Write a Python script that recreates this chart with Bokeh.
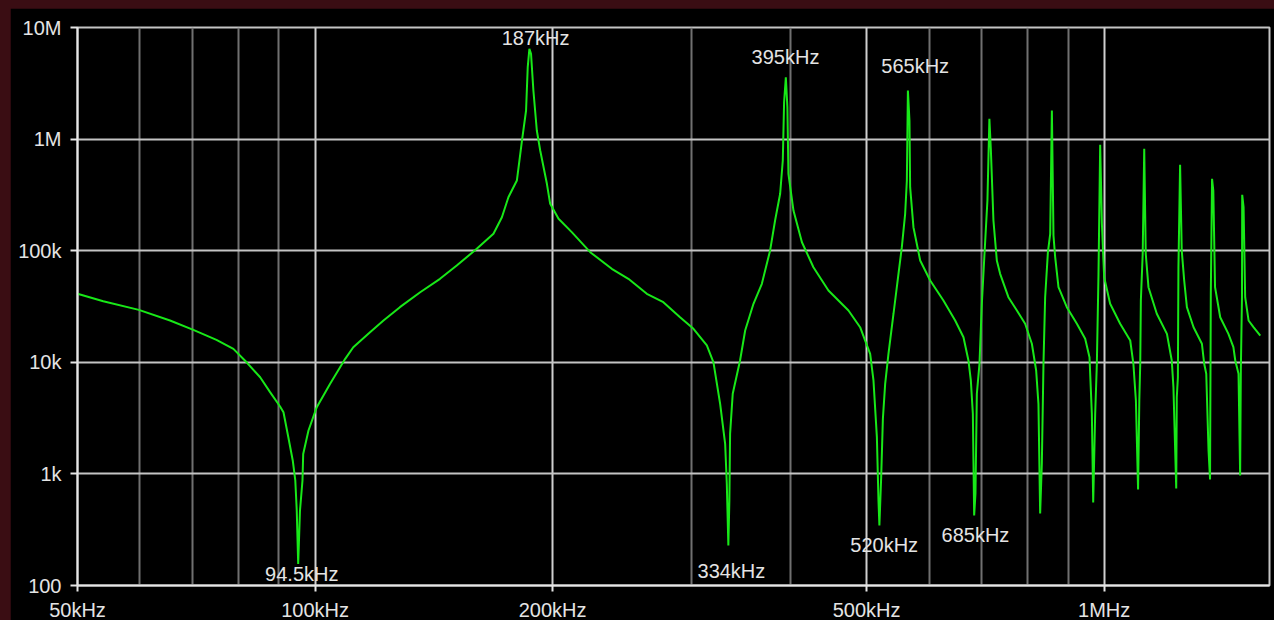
from bokeh.plotting import figure
from bokeh.models import Range1d, FixedTicker, ColumnDataSource, CustomJSTickFormatter
from bokeh.embed import file_html
from bokeh.resources import INLINE
from bokeh.core.properties import value

# Frequency (kHz) and impedance-like magnitude
freq_khz = [
    50.0, 53.9, 59.8, 65.5, 70.1, 75.0, 78.8, 81.9, 85.2, 87.7, 90.3, 91.2, 92.5, 93.7,
    94.4, 94.8, 95.2, 95.7, 96.4, 96.6, 98.1, 100.5, 104.5,
    109.2, 111.8, 117.4, 122.1, 128.1, 135.9, 144.0, 151.2, 160.3, 168.3, 172.5, 175.8,
    180.2, 182.8, 185.1, 186.0, 186.9, 187.8, 189.1, 191.0, 192.9, 196.7, 198.6, 203.5,
    211.5, 223.2, 237.7, 249.5, 263.3, 276.3, 290.1, 301.7, 313.7, 319.8, 326.1, 330.9,
    332.5, 334.0, 335.0, 335.7, 338.3, 345.6, 350.8, 359.4, 368.3, 377.3, 382.8, 388.5,
    391.5, 393.0, 395.0, 396.8, 398.0, 403.9, 414.0, 428.1, 447.3, 474.2, 490.6, 505.2,
    510.1, 515.2, 517.6, 519.0, 521.7, 524.3, 527.8, 532.9, 540.8, 548.7, 554.1, 559.5,
    562.3, 564.0, 566.6, 567.7, 573.2, 584.6, 601.9, 625.6, 647.4, 663.3, 673.0, 677.7,
    681.7, 684.3, 686.9, 689.7, 695.0, 699.8, 704.5, 711.3, 715.4, 718.4, 723.9, 731.1,
    738.2, 756.2, 775.2, 794.1, 809.8, 820.0, 825.5, 829.6, 833.7, 837.7, 841.8, 848.6,
    854.3, 858.5, 862.5, 866.8, 875.2, 896.8, 923.5, 946.1, 958.1, 964.7, 968.5, 974.1,
    978.9, 983.6, 988.4, 993.4, 1000.0, 1017.6, 1047.8, 1079.0, 1089.0, 1097.0, 1104.0,
    1108.0, 1111.0, 1113.0, 1119.0, 1124.0, 1129.0, 1138.0, 1166.0, 1201.0, 1218.0,
    1224.0, 1234.0, 1236.0, 1240.0, 1242.0, 1248.0, 1254.0, 1263.0, 1273.0, 1298.0,
    1330.0, 1339.0, 1347.0, 1356.0, 1362.0, 1365.0, 1370.0, 1375.0, 1382.0, 1403.0,
    1437.0, 1458.0, 1466.0, 1480.0, 1487.0, 1490.0, 1495.0, 1496.0, 1502.0, 1509.0,
    1524.0, 1546.0, 1577.0,
]
magnitude = [
    41100, 35300, 29500, 23700, 19550, 15900, 13200, 10000, 7350, 5400, 4020, 3570, 2130, 1320,
    873, 470, 156, 470, 873, 1510, 2450, 3960, 6410,
    10740, 13650, 18620, 23700, 31190, 42460, 55980, 73700, 104000, 141700, 199500, 301600,
    425600, 938000, 1804000, 4409000, 6444000, 5811000, 2726000, 1194000, 790700, 397700, 263000, 193200,
    146600, 97000, 68870, 55980, 41110, 34550, 25350, 19950, 14150, 10000, 4246, 1862,
    815, 228, 578, 2286, 5224, 10380, 19280, 33420, 50500, 100500, 186500, 323600,
    643000, 2141000, 3586000, 1931000, 488700, 229100, 119100, 71120, 43990, 29110, 20630, 11910,
    6871, 2133, 578, 345, 933, 3119, 6412, 11910, 27230, 62090, 107500, 214100,
    425600, 2726000, 1468000, 370700, 162400, 81660, 54080, 35810, 23700, 16790, 10380, 6871,
    3455, 424, 664, 5224, 9696, 33420, 81660, 281800, 1521000, 818500, 186500, 81660,
    62090, 38310, 29110, 22130, 14660, 8444, 4246, 442, 1232, 9696, 38310, 97000,
    141700, 1804000, 136800, 87500, 47100, 31190, 22130, 16240, 11120, 3455, 555, 3455,
    9696, 62090, 889000, 174200, 57880, 33420, 22130, 15680, 9696, 4550, 725,
    4550, 9696, 35810, 93760, 818500, 93760, 47100, 27230, 17990, 10380,
    5984, 740, 4864, 7353, 71120, 588500, 100500, 54080, 31190, 20630,
    14660, 9696, 7889, 1622, 891, 41110, 441000, 346300, 47100, 25350,
    17990, 13650, 10380, 7889, 968, 8444, 38310, 316700, 245500, 38310,
    23700, 20630, 17380,
]

x_tick_values = [50, 100, 200, 500, 1000]
x_tick_labels = ["50kHz", "100kHz", "200kHz", "500kHz", "1MHz"]
x_minor_values = [60, 70, 80, 90, 300, 400, 600, 700, 800, 900]
y_tick_values = [100, 1000, 10000, 100000, 1000000, 10000000]
y_tick_labels = ["100", "1k", "10k", "100k", "1M", "10M"]

marker_text = ["94.5kHz", "187kHz", "334kHz", "395kHz", "520kHz", "565kHz", "685kHz"]
marker_x = [96.2, 190.3, 337.0, 394.6, 526.3, 576.1, 686.9]
marker_y = [125.5, 7.97e6, 136.2, 5.497e6, 229.6, 4.473e6, 284.7]

FONT = "Liberation Sans"
TEXT_COLOR = "#e4e4e4"

p = figure(
    width=1264, height=615,
    x_axis_type="log", y_axis_type="log",
    x_range=Range1d(50, 1620), y_range=Range1d(100, 1e7),
    output_backend="svg", toolbar_location=None,
    background_fill_color="black", border_fill_color="black",
    min_border_left=67, min_border_right=5, min_border_top=19, min_border_bottom=38,
)

xt = FixedTicker(ticks=x_tick_values, minor_ticks=x_minor_values)
yt = FixedTicker(ticks=y_tick_values, minor_ticks=[])
p.xaxis.ticker = xt
p.yaxis.ticker = yt
p.xgrid.ticker = xt
p.ygrid.ticker = yt

fmt_code = """
const i = vals.findIndex(v => Math.abs(v - tick) <= 1e-6 * v);
return i >= 0 ? labs[i] : "";
"""
p.xaxis.formatter = CustomJSTickFormatter(args=dict(vals=x_tick_values, labs=x_tick_labels), code=fmt_code)
p.yaxis.formatter = CustomJSTickFormatter(args=dict(vals=y_tick_values, labs=y_tick_labels), code=fmt_code)

p.xgrid.grid_line_color = "#cfcfcf"
p.xgrid.grid_line_width = 2
p.xgrid.minor_grid_line_color = "#707070"
p.xgrid.minor_grid_line_width = 2
p.ygrid.grid_line_color = "#c4c4c4"
p.ygrid.grid_line_width = 2

for ax in (p.xaxis, p.yaxis):
    ax.axis_line_color = "#e6e6e6"
    ax.axis_line_width = 2
    ax.major_tick_line_color = "#e6e6e6"
    ax.major_tick_line_width = 2
    ax.major_tick_in = 0
    ax.minor_tick_in = 0
    ax.minor_tick_out = 0
    ax.major_label_text_color = TEXT_COLOR
    ax.major_label_text_font = FONT
    ax.major_label_text_font_size = "20px"

p.xaxis.major_tick_out = 6
p.xaxis.major_label_standoff = 7
p.yaxis.major_tick_out = 7
p.yaxis.major_label_standoff = 9

p.outline_line_color = "#c4c4c4"
p.outline_line_width = 2

p.line(freq_khz, magnitude, line_color="#18e818", line_width=2)

src = ColumnDataSource(dict(x=marker_x, y=marker_y, t=marker_text))
p.text(x="x", y="y", text="t", source=src,
       text_font=value(FONT), text_font_size=value("20px"),
       text_color=TEXT_COLOR, text_align="center", text_baseline="middle")

html = file_html(p, INLINE)
html = html.replace(
    "</head>",
    "<style>html,body{background:#3a0d13;overflow:hidden;}body{padding:8px 0 0 10px;}</style></head>",
    1,
)
open("out.html", "w").write(html)
